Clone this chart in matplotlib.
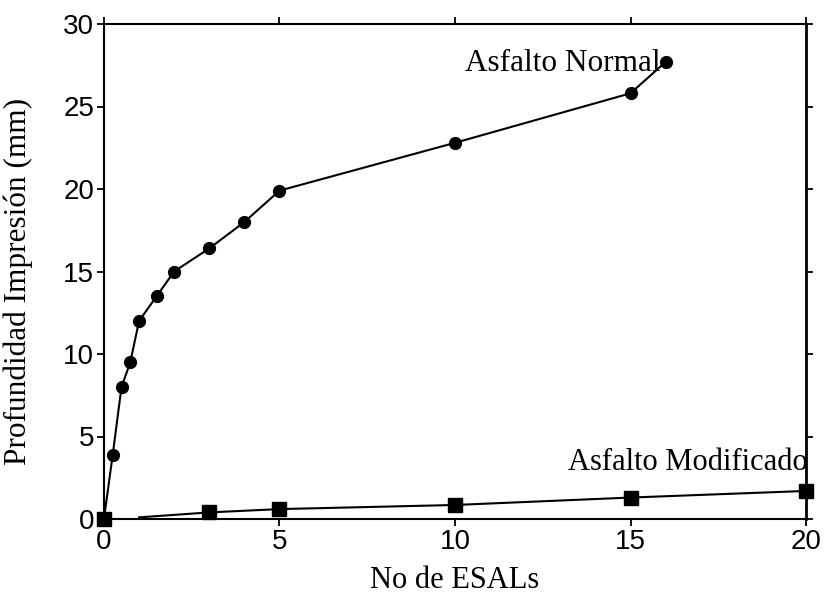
import matplotlib.pyplot as plt

# Data
esals_normal = [0, 0.25, 0.5, 0.75, 1, 1.5, 2, 3, 4, 5, 10, 15, 16]
rut_normal = [0, 3.9, 8.0, 9.5, 12.0, 13.5, 15.0, 16.4, 18.0, 19.9, 22.8, 25.8, 27.7]

esals_mod = [0, 3, 5, 10, 15, 20]
rut_mod = [0, 0.4, 0.6, 0.85, 1.3, 1.7]
# the modified line starts a bit after the origin
esals_mod_line = [1, 3, 5, 10, 15, 20]
rut_mod_line = [0.1, 0.4, 0.6, 0.85, 1.3, 1.7]

fig = plt.figure(figsize=(8.25, 6), dpi=100)
ax = fig.add_axes([0.126, 0.135, 0.851, 0.825])

ax.plot(esals_normal, rut_normal, color='black', lw=1.5, marker='o', ms=8.5, clip_on=False, zorder=3)
ax.plot(esals_mod_line, rut_mod_line, color='black', lw=1.5, clip_on=False, zorder=3)
ax.plot(esals_mod, rut_mod, color='black', ls='none', marker='s', ms=9.5, clip_on=False, zorder=4)

ax.text(15.85, 27.6, 'Asfalto Normal', ha='right', va='center', family='Liberation Serif', fontsize=22.5)
ax.text(20.05, 3.4, 'Asfalto Modificado', ha='right', va='center', family='Liberation Serif', fontsize=22)

ax.set_xlim(0, 20)
ax.set_ylim(0, 30)
ax.set_xticks([0, 5, 10, 15, 20])
ax.set_yticks([0, 5, 10, 15, 20, 25, 30])
ax.tick_params(direction='out', length=5, width=1.3, labelsize=20, top=True, right=True, pad=2)
for lab in ax.get_xticklabels() + ax.get_yticklabels():
    lab.set_family('Liberation Sans')
for s in ax.spines.values():
    s.set_linewidth(1.5)
ax.spines['right'].set_linewidth(2)

ax.set_xlabel('No de ESALs', family='Liberation Serif', fontsize=22)
ax.set_ylabel('Profundidad Impresión (mm)', family='Liberation Serif', fontsize=22.5)
ax.xaxis.set_label_coords(0.5, -0.095)
ax.yaxis.set_label_coords(-0.101, 0.48)

fig.savefig('out.png', dpi=100)
